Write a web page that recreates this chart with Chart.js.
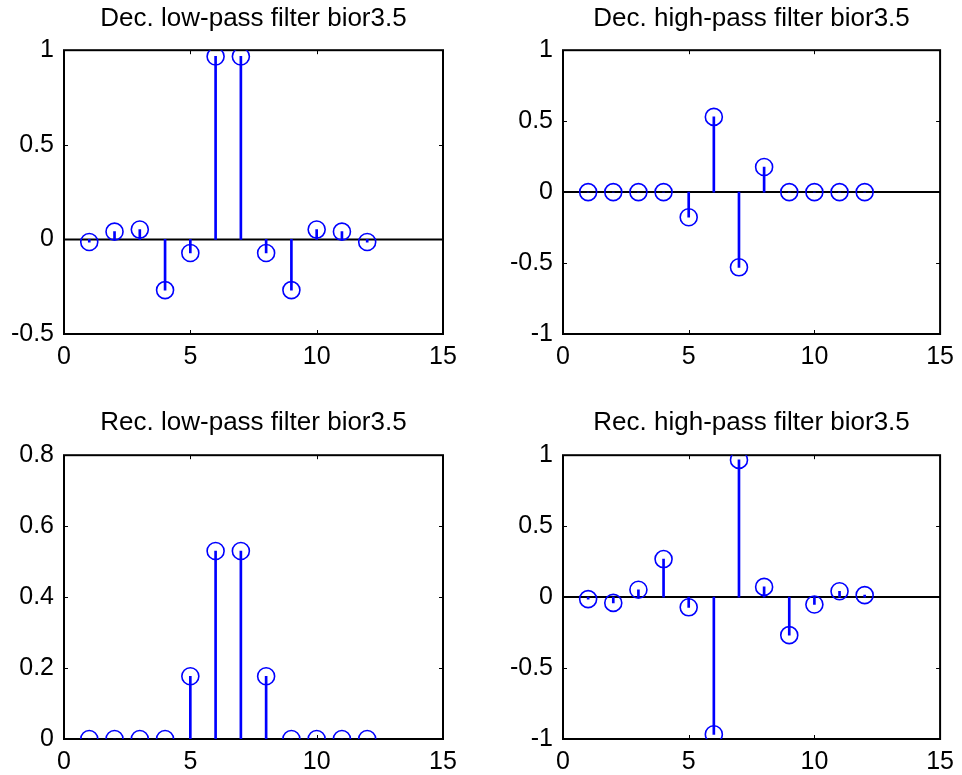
<!DOCTYPE html>
<html>
<head>
<meta charset="utf-8">
<script src="https://cdn.jsdelivr.net/npm/chart.js@4.4.1/dist/chart.umd.min.js"></script>
<style>
html, body { margin: 0; padding: 0; background: #fff; }
#wrap { position: relative; width: 962px; height: 775px; overflow: hidden; }
.panel { position: absolute; }
</style>
</head>
<body>
<div id="wrap">
  <div class="panel" style="left:0px;top:0px;width:481px;height:388px"><canvas id="c1"></canvas></div>
  <div class="panel" style="left:481px;top:0px;width:481px;height:388px"><canvas id="c2"></canvas></div>
  <div class="panel" style="left:0px;top:388px;width:481px;height:387px"><canvas id="c3"></canvas></div>
  <div class="panel" style="left:481px;top:388px;width:481px;height:387px"><canvas id="c4"></canvas></div>
</div>
<script>
// filter coefficients
var xIdx = [1, 2, 3, 4, 5, 6, 7, 8, 9, 10, 11, 12];
var decLo = [-0.014, 0.041, 0.052, -0.268, -0.072, 0.967, 0.967, -0.072, -0.268, 0.052, 0.041, -0.014];
var decHi = [0, 0, 0, 0, -0.177, 0.530, -0.530, 0.177, 0, 0, 0, 0];
var recLo = [0, 0, 0, 0, 0.177, 0.530, 0.530, 0.177, 0, 0, 0, 0];
var recHi = [-0.014, -0.041, 0.052, 0.268, -0.072, -0.967, 0.967, 0.072, -0.268, -0.052, 0.041, 0.014];

var xTicks = [0, 5, 10, 15];
var yTicksDecLo = [-0.5, 0, 0.5, 1];
var yTicksDecHi = [-1, -0.5, 0, 0.5, 1];
var yTicksRecLo = [0, 0.2, 0.4, 0.6, 0.8];
var yTicksRecHi = [-1, -0.5, 0, 0.5, 1];

var titles = [
    'Dec. low-pass filter bior3.5',
    'Dec. high-pass filter bior3.5',
    'Rec. low-pass filter bior3.5',
    'Rec. high-pass filter bior3.5'
];

var FONT = '"Liberation Sans", Arial, Helvetica, sans-serif';
var BLUE = '#0000ff';

// matlab style box with inward ticks on all sides
var boxPlugin = {
    id: 'box',
    beforeDatasetsDraw: function (chart) {
        var ctx = chart.ctx, a = chart.chartArea;
        var xs = chart.scales.x, ys = chart.scales.y;
        ctx.save();
        ctx.strokeStyle = '#000';
        ctx.lineWidth = 2;
        ctx.strokeRect(a.left, a.top, a.right - a.left, a.bottom - a.top);
        ctx.lineWidth = 1;
        ctx.beginPath();
        xs.ticks.forEach(function (t) {
            var px = Math.round(xs.getPixelForValue(t.value)) + 0.5;
            ctx.moveTo(px, a.bottom); ctx.lineTo(px, a.bottom - 4);
            ctx.moveTo(px, a.top); ctx.lineTo(px, a.top + 4);
        });
        ys.ticks.forEach(function (t) {
            var py = Math.round(ys.getPixelForValue(t.value)) + 0.5;
            ctx.moveTo(a.left, py); ctx.lineTo(a.left + 4, py);
            ctx.moveTo(a.right, py); ctx.lineTo(a.right - 4, py);
        });
        ctx.stroke();
        ctx.restore();
    }
};

function stemChart(id, title, values, yTicks, yW, padRight, titleTop, titleBottom, xH, padBottom) {
    var pts = xIdx.map(function (x, i) { return {x: x, y: values[i]}; });
    return new Chart(document.getElementById(id), {
        type: 'bar',
        data: {
            datasets: [
                {
                    type: 'scatter',
                    data: pts,
                    showLine: false,
                    pointStyle: 'circle',
                    pointRadius: 8.5,
                    pointBorderWidth: 1.6,
                    pointBorderColor: BLUE,
                    pointBackgroundColor: 'rgba(0,0,0,0)',
                    order: 0
                },
                {
                    type: 'bar',
                    data: pts,
                    backgroundColor: BLUE,
                    borderWidth: 0,
                    barThickness: 2,
                    order: 1
                },
                {
                    type: 'line',
                    data: [{x: xTicks[0], y: 0}, {x: xTicks[xTicks.length - 1], y: 0}],
                    borderColor: '#000',
                    borderWidth: 2,
                    pointRadius: 0,
                    order: 2
                }
            ]
        },
        options: {
            responsive: true,
            maintainAspectRatio: false,
            animation: false,
            events: [],
            layout: {padding: {left: 0, right: padRight, top: 0, bottom: padBottom}},
            plugins: {
                legend: {display: false},
                tooltip: {enabled: false},
                title: {
                    display: true,
                    text: title,
                    fullSize: false,
                    color: '#000',
                    font: {family: FONT, size: 26, weight: 'normal'},
                    padding: {top: titleTop, bottom: titleBottom}
                }
            },
            scales: {
                x: {
                    type: 'linear',
                    offset: false,
                    min: xTicks[0],
                    max: xTicks[xTicks.length - 1],
                    afterBuildTicks: function (s) { s.ticks = xTicks.map(function (v) { return {value: v}; }); },
                    afterFit: function (s) { s.height = xH; },
                    grid: {display: false, drawTicks: false},
                    border: {display: false},
                    ticks: {
                        color: '#000',
                        padding: 8,
                        maxRotation: 0,
                        font: {family: FONT, size: 25},
                        callback: function (v) { return String(v); }
                    }
                },
                y: {
                    min: yTicks[0],
                    max: yTicks[yTicks.length - 1],
                    afterBuildTicks: function (s) { s.ticks = yTicks.map(function (v) { return {value: v}; }); },
                    afterFit: function (s) { s.width = yW; },
                    grid: {display: false, drawTicks: false},
                    border: {display: false},
                    ticks: {
                        color: '#000',
                        padding: 10,
                        font: {family: FONT, size: 25},
                        callback: function (v) { return String(Number(v.toFixed(2))); }
                    }
                }
            }
        },
        plugins: [boxPlugin]
    });
}

stemChart('c1', titles[0], decLo, yTicksDecLo, 64, 38, 3, 16, 46, 8);
stemChart('c2', titles[1], decHi, yTicksDecHi, 82, 18, 3, 16, 46, 8);
stemChart('c3', titles[2], recLo, yTicksRecLo, 64, 38, 19, 17, 36, 0);
stemChart('c4', titles[3], recHi, yTicksRecHi, 82, 18, 19, 17, 36, 0);
</script>
</body>
</html>
